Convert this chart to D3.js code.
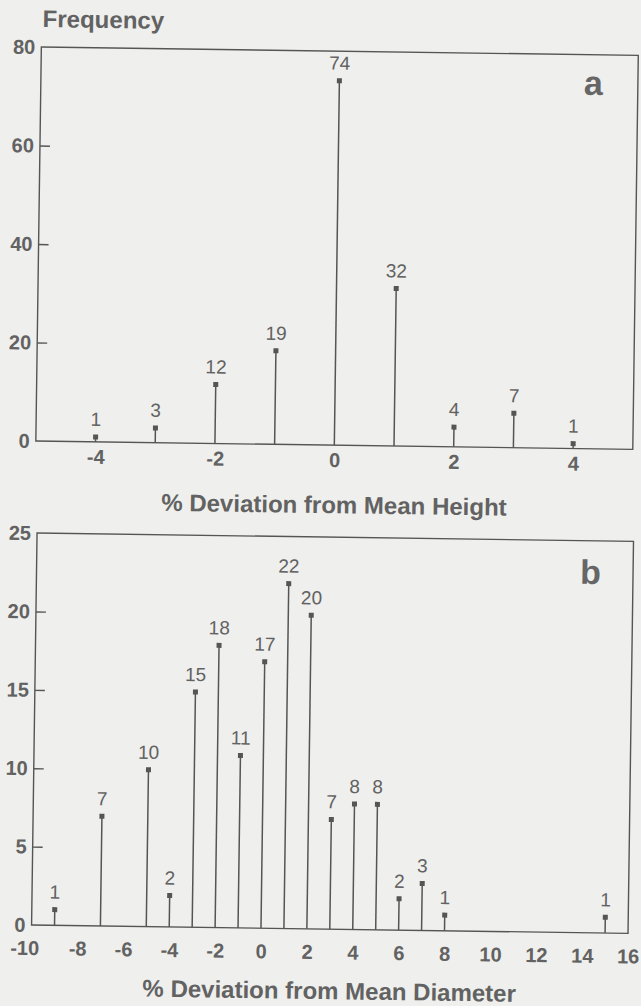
<!DOCTYPE html>
<html>
<head>
<meta charset="utf-8">
<script src="https://cdn.jsdelivr.net/npm/d3@7"></script>
<style>
  body { margin: 0; background: #efefed; }
  svg { display: block; }
  text { font-family: "Liberation Sans", Arial, sans-serif; }
</style>
</head>
<body>
<svg id="chart" width="641" height="1006"></svg>
<script>
// Panel a: % deviation from mean height
const heightDev    = [-4, -3, -2, -1, 0, 1, 2, 3, 4];
const heightFreq   = [1, 3, 12, 19, 74, 32, 4, 7, 1];
const heightXTicks = [-4, -2, 0, 2, 4];
const heightYTicks = [0, 20, 40, 60, 80];

// Panel b: % deviation from mean diameter
const diamDev    = [-9, -7, -5, -4, -3, -2, -1, 0, 1, 2, 3, 4, 5, 6, 7, 8, 15];
const diamFreq   = [1, 7, 10, 2, 15, 18, 11, 17, 22, 20, 7, 8, 8, 2, 3, 1, 1];
const diamXTicks = [-10, -8, -6, -4, -2, 0, 2, 4, 6, 8, 10, 12, 14, 16];
const diamYTicks = [0, 5, 10, 15, 20, 25];

const ink = "#555";
const textInk = "#626262";

// =======================================================================================
// Draw one stem plot panel inside a box
function stemPanel(g, opt)
{
  const x = d3.scaleLinear().domain(opt.xDomain).range([opt.left, opt.right]);
  const y = d3.scaleLinear().domain(opt.yDomain).range([opt.bottom, opt.top]);

  // frame
  g.append("rect")
    .attr("x", opt.left).attr("y", opt.top)
    .attr("width", opt.right - opt.left).attr("height", opt.bottom - opt.top)
    .attr("fill", "none").attr("stroke", ink).attr("stroke-width", 1.4);

  // y axis, ticks pointing inward
  const yAxis = g.append("g")
    .attr("transform", `translate(${opt.left},0)`)
    .call(d3.axisRight(y).tickValues(opt.yTicks).tickSize(10).tickFormat(""));
  yAxis.select(".domain").remove();
  yAxis.selectAll(".tick line")
    .attr("stroke", ink).attr("stroke-width", 1.4)
    .filter(d => d === opt.yDomain[0] || d === opt.yDomain[1]).remove();

  g.selectAll(".ylab")
    .data(opt.yTicks)
    .enter().append("text")
    .attr("x", opt.left - 6)
    .attr("y", d => y(d) + 7)
    .attr("text-anchor", "end")
    .attr("font-size", 20).attr("font-weight", "bold")
    .attr("fill", textInk)
    .text(d => d);

  // x tick labels (plain hyphen minus as in the print)
  const xAxis = g.append("g")
    .attr("transform", `translate(0,${opt.bottom})`)
    .call(d3.axisBottom(x).tickValues(opt.xTicks).tickSize(0).tickFormat(d => String(d)));
  xAxis.select(".domain").remove();
  xAxis.selectAll("text")
    .attr("y", opt.xLabelDrop).attr("dy", 0)
    .attr("dx", d => d === -10 ? -7 : 0)
    .attr("font-size", 20).attr("font-weight", "bold")
    .attr("font-family", "Liberation Sans, Arial, sans-serif")
    .attr("fill", textInk);

  // stems
  g.selectAll(".stem")
    .data(opt.xs)
    .enter().append("line")
    .attr("x1", d => x(d)).attr("x2", d => x(d))
    .attr("y1", y(0))
    .attr("y2", (d, i) => y(opt.ys[i]))
    .attr("stroke", ink).attr("stroke-width", 1.5);

  g.selectAll(".cap")
    .data(opt.xs)
    .enter().append("rect")
    .attr("x", d => x(d) - 2.5)
    .attr("y", (d, i) => y(opt.ys[i]) - 2.5)
    .attr("width", 5).attr("height", 5)
    .attr("fill", ink);

  g.selectAll(".val")
    .data(opt.xs)
    .enter().append("text")
    .attr("x", d => x(d))
    .attr("y", (d, i) => y(opt.ys[i]) - 11)
    .attr("text-anchor", "middle")
    .attr("font-size", 19)
    .attr("fill", textInk)
    .text((d, i) => opt.ys[i]);

  // panel letter
  g.append("text")
    .attr("x", opt.letterX).attr("y", opt.letterY)
    .attr("font-size", 34).attr("font-weight", "bold")
    .attr("fill", "#666")
    .text(opt.letter);

  // x axis title
  g.append("text")
    .attr("x", opt.titleX).attr("y", opt.titleY)
    .attr("text-anchor", "middle")
    .attr("font-size", 24).attr("font-weight", "bold")
    .attr("fill", textInk)
    .text(opt.title);
}

// the printed page sits slightly tilted in the scan
const root = d3.select("#chart").append("g")
  .attr("transform", "rotate(0.8, 320.5, 503)");

root.append("text")
  .attr("x", 36).attr("y", 31)
  .attr("font-size", 24).attr("font-weight", "bold")
  .attr("fill", textInk)
  .text("Frequency");

stemPanel(root, {
  left: 35, right: 632, top: 51, bottom: 445,
  xDomain: [-5, 5], yDomain: [0, 80],
  xs: heightDev, ys: heightFreq,
  xTicks: heightXTicks, yTicks: heightYTicks, xLabelDrop: 22,
  letter: "a", letterX: 578, letterY: 91,
  title: "% Deviation from Mean Height", titleX: 334, titleY: 513
});

stemPanel(root, {
  left: 37.5, right: 634, top: 537, bottom: 929,
  xDomain: [-10, 16], yDomain: [0, 25],
  xs: diamDev, ys: diamFreq,
  xTicks: diamXTicks, yTicks: diamYTicks, xLabelDrop: 30,
  letter: "b", letterX: 581, letterY: 580,
  title: "% Deviation from Mean Diameter", titleX: 336, titleY: 999
});
</script>
</body>
</html>
